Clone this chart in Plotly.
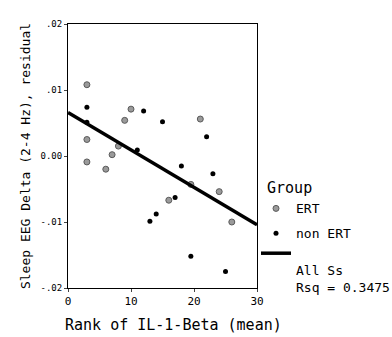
import plotly.graph_objects as go

# Rank of IL-1-Beta (mean) vs. sleep EEG delta residual, by group
ert_rank = [3, 3, 3, 6, 7, 8, 9, 10, 16, 19.5, 21, 24, 26]
ert_delta = [0.0108, 0.0025, -0.0009, -0.0020, 0.0002, 0.0015, 0.0054, 0.0071,
             -0.0067, -0.0043, 0.0056, -0.0054, -0.0100]

non_ert_rank = [3, 3, 11, 12, 13, 14, 15, 17, 18, 19.5, 22, 23, 25]
non_ert_delta = [0.0074, 0.0051, 0.0009, 0.0068, -0.0099, -0.0088, 0.0052,
                 -0.0063, -0.0015, -0.0152, 0.0029, -0.0027, -0.0175]

# Least-squares fit over all subjects
fit_intercept = 0.0066
fit_slope = -0.000567
fit_rsq = 0.3475
fit_x = [0, 30]

x_ticks = [0, 10, 20, 30]
y_ticks = [0.02, 0.01, 0.0, -0.01, -0.02]
y_ticklabels = [".02", ".01", "0.00", "-.01", "-.02"]

FONT = "DejaVu Sans Mono"

fig = go.Figure()
fig.add_trace(go.Scatter(
    x=ert_rank, y=ert_delta, mode="markers", name="ERT", legendgroup="a",
    marker=dict(size=6, color="#9a9a9a", line=dict(color="#5a5a5a", width=1)),
))
fig.add_trace(go.Scatter(
    x=non_ert_rank, y=non_ert_delta, mode="markers", name="non ERT", legendgroup="b",
    marker=dict(size=5, color="black"),
))
fit_y = [fit_intercept + fit_slope * v for v in fit_x]
fig.add_trace(go.Scatter(
    x=fit_x, y=fit_y, mode="lines", legendgroup="b",
    name="<br>All Ss<br>Rsq = %.4f" % fit_rsq,
    line=dict(color="black", width=3.5),
))

fig.add_annotation(
    text="Rank of IL-1-Beta (mean)", xref="paper", yref="paper",
    x=0.5, y=0, xshift=11, yshift=-37, yanchor="middle", showarrow=False,
    font=dict(size=15, family=FONT),
)

fig.update_layout(
    width=392, height=337,
    margin=dict(l=68, r=135, t=24, b=49, autoexpand=False),
    paper_bgcolor="white", plot_bgcolor="white",
    font=dict(family=FONT, color="black"),
    showlegend=True,
    legend=dict(
        title=dict(text="\u00a0Group", font=dict(size=15)),
        xref="container", x=256 / 392, xanchor="left",
        y=0.432, yanchor="top",
        font=dict(size=13), valign="top",
        itemwidth=30, tracegroupgap=5,
        bgcolor="rgba(0,0,0,0)",
    ),
    xaxis=dict(
        range=[0, 30], tickvals=x_ticks, ticks="outside", ticklen=3,
        showline=True, linecolor="black", linewidth=1, mirror=True,
        showgrid=False, zeroline=False,
        tickfont=dict(size=11, family=FONT),
    ),
    yaxis=dict(
        range=[-0.02, 0.02], tickvals=y_ticks, ticktext=y_ticklabels,
        ticks="outside", ticklen=3,
        showline=True, linecolor="black", linewidth=1, mirror=True,
        showgrid=False, zeroline=False,
        tickfont=dict(size=9, family=FONT),
        title=dict(text="Sleep EEG Delta (2-4 Hz), residual", font=dict(size=13), standoff=6),
    ),
)

fig.write_html("out.html")
